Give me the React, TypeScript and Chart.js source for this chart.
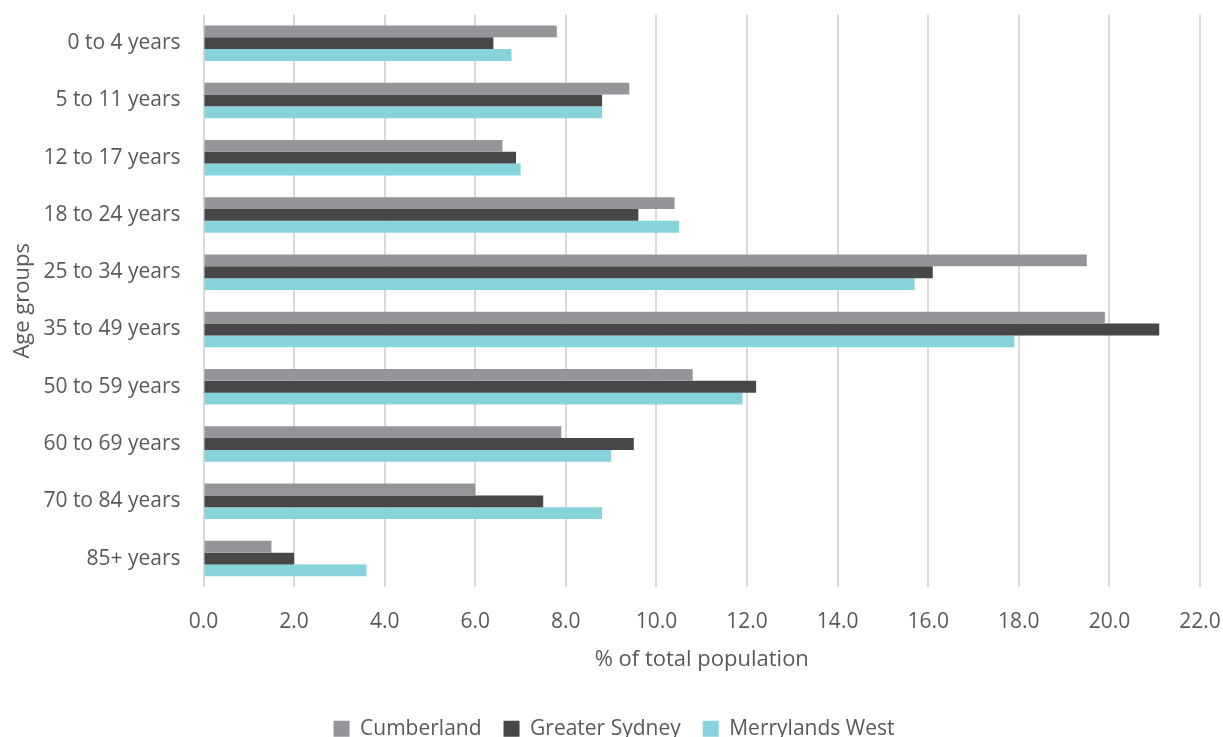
import React, { useEffect, useRef } from "react";
import { Chart, registerables } from "chart.js";

Chart.register(...registerables);

const categories = [
  "0 to 4 years",
  "5 to 11 years",
  "12 to 17 years",
  "18 to 24 years",
  "25 to 34 years",
  "35 to 49 years",
  "50 to 59 years",
  "60 to 69 years",
  "70 to 84 years",
  "85+ years",
];
const seriesNames = ["Cumberland", "Greater Sydney", "Merrylands West"];
const cumberland = [7.8, 9.4, 6.6, 10.4, 19.5, 19.9, 10.8, 7.9, 6.0, 1.5];
const greaterSydney = [6.4, 8.8, 6.9, 9.6, 16.1, 21.1, 12.2, 9.5, 7.5, 2.0];
const merrylandsWest = [6.8, 8.8, 7.0, 10.5, 15.7, 17.9, 11.9, 9.0, 8.8, 3.6];
const xMin = 0;
const xMax = 22;
const xStep = 2;
const xTitle = "% of total population";
const yTitle = "Age groups";

const colors = ["#939598", "#474749", "#86D3DB"];
const textColor = "#595959";
const FONT = "'Open Sans', 'Noto Sans', sans-serif";

const legendShift = {
  id: "legendShift",
  afterLayout(chart: any) {
    const l = chart.legend;
    if (l) {
      l.left += 14;
      l.right += 14;
    }
  },
};

export default function App() {
  const ref = useRef<HTMLCanvasElement | null>(null);

  useEffect(() => {
    if (!ref.current) return;
    const values = [cumberland, greaterSydney, merrylandsWest];
    const chart = new Chart(ref.current, {
      type: "bar",
      data: {
        labels: categories,
        datasets: seriesNames.map((name, i) => ({
          label: name,
          data: values[i],
          backgroundColor: colors[i],
          borderWidth: 0,
          barPercentage: 1,
          categoryPercentage: 0.62,
        })),
      },
      plugins: [legendShift],
      options: {
        indexAxis: "y",
        responsive: false,
        animation: false,
        devicePixelRatio: 1,
        layout: { padding: { top: 14.5, right: 23, left: 0, bottom: 10.8 } },
        plugins: {
          tooltip: { enabled: false },
          legend: {
            position: "bottom",
            labels: {
              color: textColor,
              font: { family: FONT, size: 21 },
              boxWidth: 16,
              boxHeight: 16,
              padding: 22,
            },
          },
        },
        scales: {
          x: {
            min: xMin,
            max: xMax,
            grid: { color: "#d9d9d9", lineWidth: 2, drawTicks: false },
            border: { display: false },
            ticks: {
              stepSize: xStep,
              color: textColor,
              font: { family: FONT, size: 21 },
              padding: 22,
              maxRotation: 0,
              callback: (v: any) => Number(v).toFixed(1),
            },
            title: {
              display: true,
              text: xTitle,
              color: textColor,
              font: { family: FONT, size: 22 },
              padding: { top: 0, bottom: 22.8 },
            },
            afterFit: (scale: any) => {
              scale.height = 109;
              scale.paddingLeft = 0;
              scale.paddingRight = 0;
              scale.paddingTop = 0;
              scale.paddingBottom = 0;
            },
          },
          y: {
            grid: { display: false, drawTicks: false },
            border: { display: false },
            ticks: {
              color: textColor,
              font: { family: FONT, size: 21 },
              padding: 23,
            },
            title: {
              display: true,
              text: yTitle,
              color: textColor,
              font: { family: FONT, size: 22 },
              padding: { top: 10, bottom: 0 },
            },
            afterFit: (scale: any) => {
              scale.width = 203.5;
              scale.paddingLeft = 0;
              scale.paddingRight = 0;
              scale.paddingTop = 0;
              scale.paddingBottom = 0;
            },
          },
        },
      },
    });
    return () => chart.destroy();
  }, []);

  return (
    <div style={{ position: "fixed", left: 0, top: 0, width: 1223, height: 737, overflow: "hidden", background: "#fff" }}>
      <canvas ref={ref} width={1223} height={760} style={{ display: "block" }} />
    </div>
  );
}
